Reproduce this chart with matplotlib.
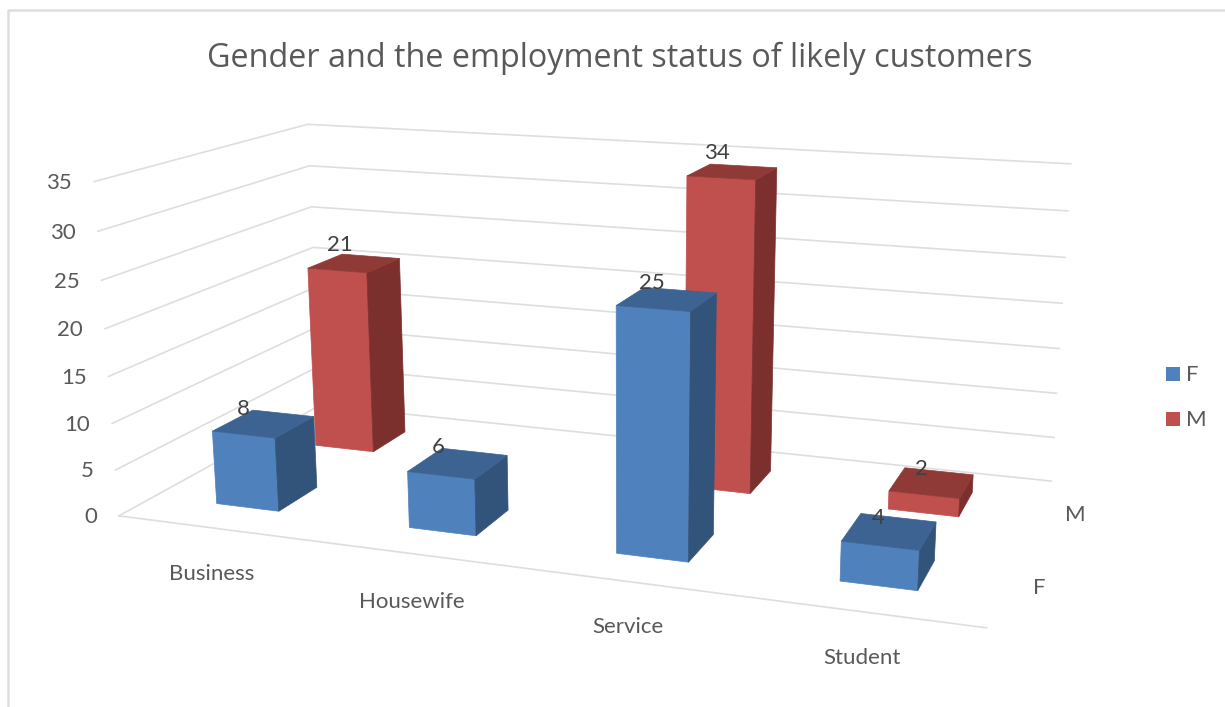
#!/usr/bin/env python3
# -*- coding: utf-8 -*-

import numpy as np
import matplotlib
matplotlib.use("Agg")
import matplotlib.pyplot as plt
from matplotlib.patches import Polygon, Rectangle

# Chart data
categories = ["Business", "Housewife", "Service", "Student"]
series_names = ["F", "M"]
female = [8, 6, 25, 4]
male = [21, 0, 34, 2]
value_ticks = [0, 5, 10, 15, 20, 25, 30, 35]

TEXT = "#595959"
LABEL = "#404040"
GRID = "#DEDEDE"
# front, top, side shades per series
SHADES = {
    "F": ("#4F81BD", "#3C6391", "#32537A"),
    "M": ("#C0504D", "#903A37", "#7C302E"),
}

# Camera calibration: (category pos, series pos, value) -> figure pixel
CALIB = [
    (0, 0, 0, 118, 515), (0, 0, 20, 105, 329), (0, 0, 35, 95, 182),
    (0, 2, 0, 321, 406), (0, 2, 20, 313, 247), (0, 2, 35, 307, 124),
    (4, 2, 0, 1051, 481), (4, 2, 20, 1062, 303), (4, 2, 35, 1071, 164),
    (4, 0, 0, 987, 628),
]


def fit_camera(points):
    rows, rhs = [], []
    for u, v, w, x, y in points:
        rows.append([u, v, w, 1, 0, 0, 0, 0, -x * u, -x * v, -x * w])
        rows.append([0, 0, 0, 0, u, v, w, 1, -y * u, -y * v, -y * w])
        rhs += [x, y]
    sol = np.linalg.lstsq(np.array(rows, float), np.array(rhs, float), rcond=None)[0]
    return np.append(sol, 1.0).reshape(3, 4)


CAMERA = fit_camera(CALIB)


def project(u, v, w):
    px, py, pz = CAMERA @ np.array([u, v, w, 1.0])
    return px / pz, py / pz


def draw_bar(ax, cat, ser, value, name, half_u=0.165, half_v=0.19):
    front, top, side = SHADES[name]
    u0, u1 = cat + 0.5 - half_u, cat + 0.5 + half_u
    v0, v1 = ser + 0.5 - half_v, ser + 0.5 + half_v
    faces = [
        ([(u0, v0, 0), (u1, v0, 0), (u1, v0, value), (u0, v0, value)], front),
        ([(u1, v0, 0), (u1, v1, 0), (u1, v1, value), (u1, v0, value)], side),
        ([(u0, v0, value), (u1, v0, value), (u1, v1, value), (u0, v1, value)], top),
    ]
    for corners, color in faces:
        pts = [project(*c) for c in corners]
        ax.add_patch(Polygon(pts, closed=True, facecolor=color, edgecolor=color,
                             linewidth=0.5, zorder=3))


fig = plt.figure(figsize=(12.25, 7.07), dpi=100)
ax = fig.add_axes([0, 0, 1, 1])
ax.set_xlim(0, 1225)
ax.set_ylim(707, 0)
ax.axis("off")

# Outer chart border, only top and left are in frame
ax.plot([8, 8, 1225], [707, 10, 10], color=GRID, linewidth=1.8)

ax.text(620, 58, "Gender and the employment status of likely customers",
        ha="center", va="center", fontsize=23.3, color=TEXT, family="Open Sans")

# Walls and floor
for val in value_ticks:
    xs, ys = zip(project(0, 0, val), project(0, 2, val), project(4, 2, val))
    ax.plot(xs, ys, color=GRID, linewidth=1.2, solid_joinstyle="miter", zorder=1)
    x0, y0 = project(0, 0, val)
    ax.text(x0 - 22, y0 + 1.5, str(val), ha="right", va="center", fontsize=16,
            color=TEXT, family="Lato")
xs, ys = zip(project(0, 0, 0), project(4, 0, 0))
ax.plot(xs, ys, color=GRID, linewidth=1.2, zorder=1)

# Back row first so the front row covers it
for ser, (name, vals) in reversed(list(enumerate(zip(series_names, [female, male])))):
    for cat, val in enumerate(vals):
        if val > 0:
            draw_bar(ax, cat, ser, val, name)

# Value labels sit a little up and left of the top face centre
label_shift = {
    ("F", 0): (-20, -15), ("F", 1): (-20, -16), ("F", 2): (-15, -16), ("F", 3): (-11, -13),
    ("M", 0): (-14, -18), ("M", 2): (-16, -19), ("M", 3): (-10, -14),
}
for ser, (name, vals) in enumerate(zip(series_names, [female, male])):
    for cat, val in enumerate(vals):
        if val > 0:
            x, y = project(cat + 0.5, ser + 0.5, val)
            dx, dy = label_shift[(name, cat)]
            ax.text(x + dx, y + dy, str(val), ha="center", va="center", fontsize=16,
                    color=LABEL, family="Lato", zorder=4)

# Axis labels along the floor
for name, pos in zip(categories, [(212, 574), (412, 602), (628, 627), (862, 658)]):
    ax.text(pos[0], pos[1], name, ha="center", va="center", fontsize=16,
            color=TEXT, family="Lato")
for name, pos in zip(series_names, [(1039, 588), (1075, 515)]):
    ax.text(pos[0], pos[1], name, ha="center", va="center", fontsize=16,
            color=TEXT, family="Lato")

# Legend
for name, y in zip(series_names, [374, 419]):
    ax.add_patch(Rectangle((1166, y - 7), 14, 14, facecolor=SHADES[name][0], edgecolor="none"))
    ax.text(1186, y + 1, name, ha="left", va="center", fontsize=16, color=TEXT, family="Lato")

fig.savefig("out.png", dpi=100)
